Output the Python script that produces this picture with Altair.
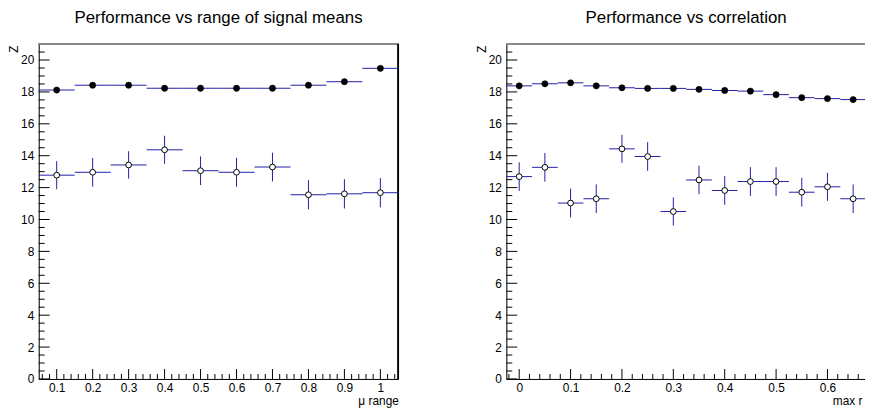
import altair as alt
import pandas as pd

# ---------------- data ----------------
mu_x = [0.1, 0.2, 0.3, 0.4, 0.5, 0.6, 0.7, 0.8, 0.9, 1.0]
mu_filled = [18.12, 18.42, 18.42, 18.23, 18.23, 18.23, 18.23, 18.42, 18.64, 19.48]
mu_filled_err = [0.12, 0.12, 0.12, 0.12, 0.12, 0.12, 0.12, 0.12, 0.12, 0.12]
mu_open = [12.78, 12.96, 13.42, 14.37, 13.06, 12.96, 13.29, 11.55, 11.61, 11.68]
mu_open_err = [0.88, 0.90, 0.86, 0.88, 0.90, 0.90, 0.90, 0.92, 0.92, 0.92]
mu_half = 0.05

corr_x = [0.0, 0.05, 0.1, 0.15, 0.2, 0.25, 0.3, 0.35, 0.4, 0.45, 0.5, 0.55, 0.6, 0.65]
corr_filled = [18.38, 18.51, 18.57, 18.38, 18.26, 18.22, 18.22, 18.16, 18.09, 18.05,
               17.83, 17.64, 17.58, 17.52]
corr_filled_err = [0.12] * 14
corr_open = [12.69, 13.27, 11.03, 11.30, 14.43, 13.95, 10.50, 12.48, 11.82, 12.38,
             12.38, 11.71, 12.05, 11.30]
corr_open_err = [0.90, 0.90, 0.90, 0.90, 0.88, 0.90, 0.88, 0.90, 0.90, 0.90,
                 0.90, 0.90, 0.88, 0.90]
corr_half = 0.025

y_major = [0, 2, 4, 6, 8, 10, 12, 14, 16, 18, 20]
y_minor = [v / 2 for v in range(0, 43) if v % 4 != 0]

mu_ticks = [0.1, 0.2, 0.3, 0.4, 0.5, 0.6, 0.7, 0.8, 0.9, 1.0]
mu_minor = [round(0.06 + 0.02 * i, 2) for i in range(50)]
corr_ticks = [0.0, 0.1, 0.2, 0.3, 0.4, 0.5, 0.6]
corr_minor = [round(-0.02 + 0.02 * i, 2) for i in range(36)]

FONT = "Liberation Sans"
BLUE = "#1f1fa8"
W, H = 363, 338


def panel(xs, filled, filled_err, opn, opn_err, half, domain, xticks, xminor,
          title, xtitle, xtitle_x, xtitle_align):
    df = pd.DataFrame({
        "x": xs,
        "lo": [v - half for v in xs],
        "hi": [v + half for v in xs],
        "f": filled,
        "f_lo": [a - b for a, b in zip(filled, filled_err)],
        "f_hi": [a + b for a, b in zip(filled, filled_err)],
        "o": opn,
        "o_lo": [a - b for a, b in zip(opn, opn_err)],
        "o_hi": [a + b for a, b in zip(opn, opn_err)],
    })
    xmaj = pd.DataFrame({"t": [t for t in xticks]})
    xmin = pd.DataFrame({"t": [t for t in xminor if domain[0] <= t <= domain[1] and
                               all(abs(t - m) > 1e-6 for m in xticks)]})
    ymaj = pd.DataFrame({"t": y_major})
    ymin = pd.DataFrame({"t": y_minor})

    xscale = alt.Scale(domain=domain, nice=False, zero=False)
    yscale = alt.Scale(domain=[0, 21], nice=False, zero=True)
    xaxis = alt.Axis(values=xticks, format="~g", ticks=False, tickSize=0, grid=False,
                     domainColor="black", domainWidth=1, labelPadding=4,
                     labelFont=FONT, labelFontSize=12, labelColor="black",
                     labelFlush=False, labelOverlap=False,
                     title=xtitle, titleX=xtitle_x, titleY=26, titleAlign=xtitle_align,
                     titleBaseline="alphabetic", titleFont=FONT, titleFontSize=12,
                     titleFontWeight="normal", titleColor="black")
    yaxis = alt.Axis(values=y_major, format="d", ticks=False, tickSize=0, grid=False,
                     domainColor="black", domainWidth=1, labelPadding=5,
                     labelFont=FONT, labelFontSize=12, labelColor="black",
                     labelFlush=False, labelOverlap=False,
                     title="Z", titleAngle=270, titleX=-21, titleY=1, titleAlign="right",
                     titleBaseline="alphabetic", titleFont=FONT, titleFontSize=12,
                     titleFontWeight="normal", titleColor="black")

    def X(f):
        return alt.X(f, type="quantitative", scale=xscale, axis=xaxis)

    def Y(f):
        return alt.Y(f, type="quantitative", scale=yscale, axis=yaxis)

    layers = []
    # inward ticks
    layers.append(alt.Chart(ymaj).mark_rule(color="black", strokeWidth=1).encode(
        y=Y("t"), x=alt.value(0), x2=alt.value(11)))
    layers.append(alt.Chart(ymin).mark_rule(color="black", strokeWidth=1).encode(
        y=Y("t"), x=alt.value(0), x2=alt.value(6)))
    layers.append(alt.Chart(xmaj).mark_rule(color="black", strokeWidth=1).encode(
        x=X("t"), y=alt.value(H), y2=alt.value(H - 10)))
    layers.append(alt.Chart(xmin).mark_rule(color="black", strokeWidth=1).encode(
        x=X("t"), y=alt.value(H), y2=alt.value(H - 5)))
    # frame
    layers.append(alt.Chart(ymaj).mark_rule(color="#8a8a8a", strokeWidth=2).encode(
        x=alt.value(0), x2=alt.value(W), y=alt.value(0)))
    layers.append(alt.Chart(ymaj).mark_rule(color="black", strokeWidth=1).encode(
        x=alt.value(W), y=alt.value(0), y2=alt.value(H)))
    # error bars
    base = alt.Chart(df)
    layers.append(base.mark_rule(color=BLUE, strokeWidth=1).encode(
        x=X("lo"), x2="hi", y=Y("f")))
    layers.append(base.mark_rule(color=BLUE, strokeWidth=1).encode(
        x=X("x"), y=Y("f_lo"), y2="f_hi"))
    layers.append(base.mark_rule(color=BLUE, strokeWidth=1).encode(
        x=X("lo"), x2="hi", y=Y("o")))
    layers.append(base.mark_rule(color=BLUE, strokeWidth=1).encode(
        x=X("x"), y=Y("o_lo"), y2="o_hi"))
    # markers
    layers.append(base.mark_point(shape="circle", filled=True, fill="black", stroke="black",
                                  strokeWidth=0.5, size=40, opacity=1).encode(
        x=X("x"), y=Y("f")))
    layers.append(base.mark_point(shape="circle", filled=True, fill="white", stroke="black",
                                  strokeWidth=1, size=34, opacity=1).encode(
        x=X("x"), y=Y("o")))

    return alt.layer(*layers).properties(
        width=W, height=H,
        title=alt.TitleParams(title, font=FONT, fontSize=17, fontWeight="normal",
                              color="black", anchor="middle", baseline="alphabetic",
                              offset=3, frame="group"))


left = panel(mu_x, mu_filled, mu_filled_err, mu_open, mu_open_err, mu_half,
             [0.05, 1.05], mu_ticks, mu_minor,
             "Performance vs range of signal means", "\u03bc range", W, "right")
right = panel(corr_x, corr_filled, corr_filled_err, corr_open, corr_open_err, corr_half,
              [-0.025, 0.675], corr_ticks, corr_minor,
              "Performance vs correlation", "max r", 329, "left")

chart = alt.hconcat(left, right, spacing=109, bounds="flush").properties(
    autosize=alt.AutoSizeParams(type="none"),
    padding={"left": 31, "top": 33, "right": 834, "bottom": 362},
).configure_view(stroke=None).configure(background="white")

chart.save("out.html", embed_options={"renderer": "svg", "actions": False})
